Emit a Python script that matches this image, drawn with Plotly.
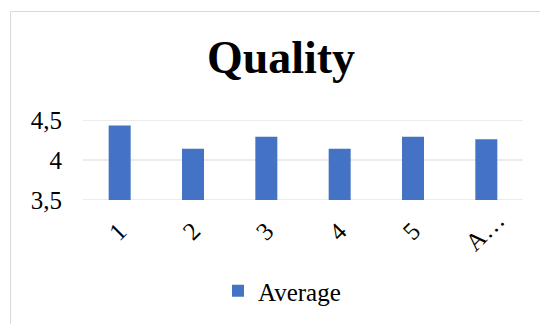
import plotly.graph_objects as go

categories = ["1", "2", "3", "4", "5", "Average"]
tick_labels = ["1", "2", "3", "4", "5", "A…"]
values = [4.43, 4.14, 4.29, 4.14, 4.29, 4.26]
series_name = "Average"
y_ticks = [3.5, 4, 4.5]

FONT = "Liberation Serif, Times New Roman, serif"
W, H = 540, 324
ML, MR, MT, MB = 83, 17, 120, 124
PW, PH = W - ML - MR, H - MT - MB

def px_x(px):
    return (px - ML) / PW

def px_y(py):
    return (H - MB - py) / PH

fig = go.Figure()
fig.add_trace(go.Bar(
    x=categories, y=values, name=series_name,
    marker=dict(color="#4472c4", line=dict(width=0)),
    showlegend=True,
))

shapes = [dict(type="rect", xref="paper", yref="paper",
               x0=px_x(10.5), x1=px_x(560), y0=px_y(340), y1=px_y(11.5),
               line=dict(color="#d9d9d9", width=1), fillcolor="rgba(0,0,0,0)",
               layer="below")]
for t in y_ticks:
    shapes.append(dict(type="line", xref="paper", yref="y", x0=0, x1=1,
                       y0=t, y1=t, line=dict(color="#d9d9d9", width=1),
                       layer="below"))

# rotated category labels, centred under each category (Excel style);
# on a category axis, positions are the category indices
annotations = [dict(x=i, xref="x", y=px_y(231), yref="paper", text=t,
                    textangle=-45, showarrow=False, xanchor="center",
                    yanchor="middle", xshift=-2,
                    font=dict(family=FONT, size=25, color="#000000"))
               for i, t in enumerate(tick_labels)]

fig.update_layout(
    width=W, height=H,
    margin=dict(l=ML, r=MR, t=MT, b=MB, autoexpand=False),
    paper_bgcolor="white", plot_bgcolor="white",
    separators=", ",
    bargap=0.7,
    font=dict(family=FONT, size=25, color="#000000"),
    title=dict(text="<b>Quality</b>", x=281 / W, xanchor="center",
               y=1 - 57 / H, yanchor="middle", yref="container",
               font=dict(family=FONT, size=46, color="#000000")),
    xaxis=dict(type="category", categoryarray=categories, showticklabels=False,
               showgrid=False, showline=False, ticks="", automargin=False),
    yaxis=dict(range=[3.5, 4.5], tickmode="array", tickvals=y_ticks,
               showgrid=False, zeroline=False, showline=False, ticks="",
               ticklabelstandoff=20, automargin=False, tickfont=dict(size=25)),
    legend=dict(orientation="h", xref="container", yref="container",
                x=218 / W, xanchor="left", y=1 - 291 / H, yanchor="middle",
                font=dict(size=25), itemwidth=30),
    shapes=shapes,
    annotations=annotations,
)

fig.write_html("out.html")
